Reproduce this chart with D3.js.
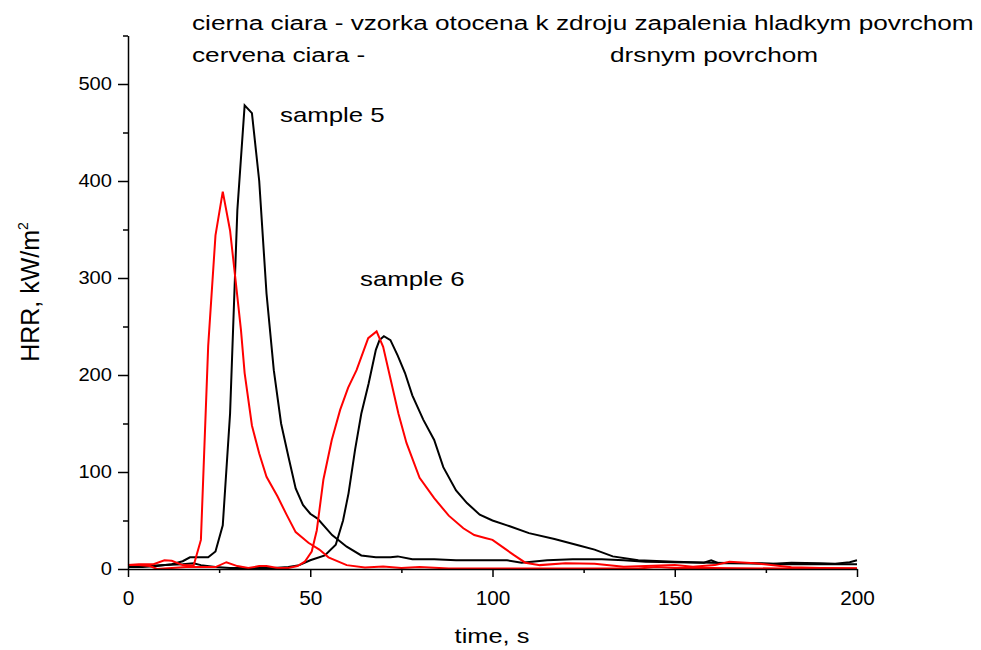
<!DOCTYPE html>
<html>
<head>
<meta charset="utf-8">
<script src="https://cdn.jsdelivr.net/npm/d3@7"></script>
<style>
body { margin: 0; background: #fff; }
text { font-family: 'Liberation Sans', Arial, sans-serif; fill: #000; }
</style>
</head>
<body>
<script>
// values (time in s, HRR in kW/m2)
var blackA_t = [0,4,8,12,15,17,20,22,24,26,28,30,32,34,36,38,40,42,44,46,48,50,52,56,60,64,68,72,74,78,84,90,96,104,108,115,122,130,136,142,150,158,160,162,170,177,182,190,194,198,200];
var blackA_v = [2,2,3,5,8,12,12,12,18,45,160,370,478,470,400,284,205,150,116,83,66,57,52,35,23,14,12,12,13,10,10,9,9,9,6.5,9,10,10,9,7.5,7,6.5,9,6,6,5.5,6.5,6,5.5,7,9];

var redA_t = [0,3,7,10,12,15,18,20,22,24,26,28,29.5,31,32,34,36,38,41,43.5,46,49.5,52.5,55,60,65,70,75,80,88,100,120,140,145,150,160,180,200];
var redA_v = [4,5,5,9,8.5,4,3.5,30,230,344,389,349,298,246,202,148,119,95,75,56,38,27,20,12,4,1.5,2.5,1,2,0.5,0.5,0.5,0.5,2,1,1,0.5,0.5];

var blackB_t = [0,5,10,15,18,20,24,28,32,36,40,44,47,50,54,57,59,60.5,62.3,64,66,68,69,70.2,72,74,76,78,81,84,86.5,90,93,96.5,100,104,110,117,124,128,133,140,150,160,170,180,190,200];
var blackB_v = [3,3,4,5,6,4,2,1,1,1,1,2,4,9,14,25,50,78,123,160,191,226,236,240,236,220,202,179,154,133,105,81,68,56,50,45,37,31,24,20,13,9,7.5,6.5,6,5,5,5];

var redB_t = [0,3,6,8,12,16,20,24,27,30,33,36,38,41,44,46.5,48.5,50.4,51.8,53.6,55.9,58.2,60.4,62.7,65.9,68.2,70,71.9,74.2,76.4,80,84,88,92,95,98,100,103,106,109,113,120,128,136,142,150,155,161,165,172,182,190,200];
var redB_v = [4,4,3,0,1,2,2,2,7,3,1,3,3,1,1,3,7.5,18,40,92,133,164,187,205,238,245,229,198,160,130,94,73,55,42,35,32,30,22,14,6.5,4,5.8,5.5,2.4,3,4,2.4,4,7.5,6,1.7,1,0.7];

var xMajor = [0,50,100,150,200];
var xMinor = [25,75,125,175];
var yMajor = [0,100,200,300,400,500];
var yMinor = [50,150,250,350,450,550];

var svg = d3.select('body').append('svg')
	.attr('width', 981)
	.attr('height', 650);

var x = d3.scaleLinear().domain([0,200]).range([128,857]);
var y = d3.scaleLinear().domain([0,550]).range([569,35.5]);

var line = d3.line()
	.x(function(d){ return x(d[0]); })
	.y(function(d){ return y(d[1]); });

function pairs(t, v) {
	return t.map(function(d, i){ return [d, v[i]]; });
}

var series = [
	{data: pairs(blackB_t, blackB_v), color: '#000000'},
	{data: pairs(blackA_t, blackA_v), color: '#000000'},
	{data: pairs(redA_t, redA_v), color: '#ff0000'},
	{data: pairs(redB_t, redB_v), color: '#ff0000'}
];

svg.selectAll('path.curve')
	.data(series)
	.enter().append('path')
	.attr('class', 'curve')
	.attr('d', function(d){ return line(d.data); })
	.attr('fill', 'none')
	.attr('stroke', function(d){ return d.color; })
	.attr('stroke-width', 2)
	.attr('stroke-linejoin', 'miter');

// x axis
var gx = svg.append('g')
	.attr('transform', 'translate(0,569)')
	.call(d3.axisBottom(x).tickValues(xMajor).tickSize(8).tickSizeOuter(0).tickPadding(13.5));
svg.append('g')
	.attr('transform', 'translate(0,569)')
	.call(d3.axisBottom(x).tickValues(xMinor).tickSize(4).tickSizeOuter(0).tickFormat(''))
	.select('.domain').remove();

// y axis
var gy = svg.append('g')
	.attr('transform', 'translate(128,0)')
	.call(d3.axisLeft(y).tickValues(yMajor).tickSize(10).tickSizeOuter(0));
svg.append('g')
	.attr('transform', 'translate(128,0)')
	.call(d3.axisLeft(y).tickValues(yMinor).tickSize(5).tickSizeOuter(0).tickFormat(''))
	.select('.domain').remove();

svg.selectAll('.domain, .tick line')
	.attr('stroke', '#000')
	.attr('stroke-width', 1.5);

gx.selectAll('text')
	.attr('font-size', 20)
	.attr('font-family', "'Liberation Sans', Arial, sans-serif")
	.attr('transform', 'scale(1.04,1)');
gy.selectAll('text')
	.attr('font-size', 19)
	.attr('font-family', "'Liberation Sans', Arial, sans-serif")
	.attr('x', -16 / 1.06)
	.attr('dy', '0.3em')
	.attr('transform', 'scale(1.06,1)');

// stretched labels
function label(str, px, py, size, sx) {
	svg.append('g')
		.attr('transform', 'translate(' + px + ',' + py + ') scale(' + sx + ',1)')
		.append('text')
		.attr('font-size', size)
		.text(str);
}

label('cierna ciara - vzorka otocena k zdroju zapalenia hladkym povrchom', 192, 30, 20, 1.31);
label('cervena ciara -', 192, 62, 20, 1.31);
label('drsnym povrchom', 610, 62, 20, 1.31);
label('sample 5', 280, 122, 21, 1.23);
label('sample 6', 360, 286, 21, 1.23);

svg.append('g')
	.attr('transform', 'translate(492,643) scale(1.27,1)')
	.append('text')
	.attr('font-size', 20)
	.attr('text-anchor', 'middle')
	.text('time, s');

var yt = svg.append('text')
	.attr('transform', 'translate(39,292) rotate(-90)')
	.attr('text-anchor', 'middle')
	.attr('font-size', 25);
yt.append('tspan').text('HRR, kW/m');
yt.append('tspan').attr('font-size', 14).attr('dy', -11).text('2');
</script>
</body>
</html>
